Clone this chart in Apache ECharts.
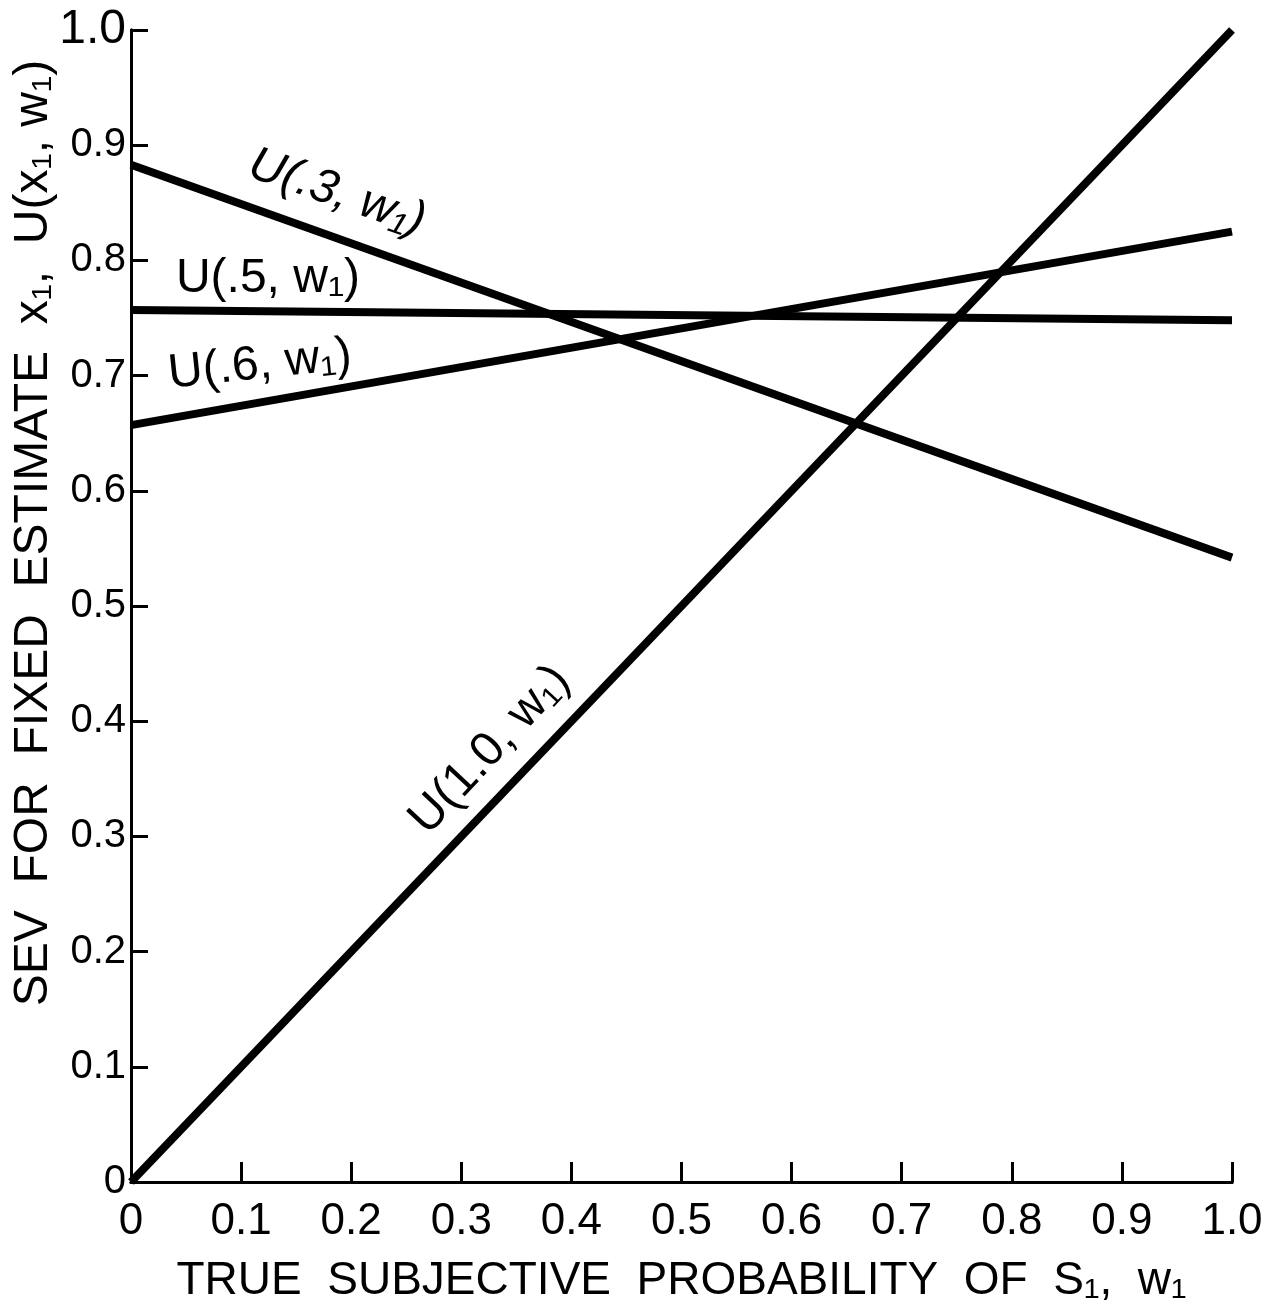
<!DOCTYPE html>
<html>
<head>
<meta charset="utf-8">
<script src="https://cdn.jsdelivr.net/npm/echarts@6/dist/echarts.min.js"></script>
<style>html,body{margin:0;padding:0;background:#fff;overflow:hidden}#c{width:1285px;height:1309px}</style>
</head>
<body>
<div id="c"></div>
<script>
// ---- data ----
var wValues = [0, 1];                 // true subjective probability w1
var u03 = [0.883, 0.542];             // U(.3, w1)
var u05 = [0.757, 0.748];             // U(.5, w1)
var u06 = [0.657, 0.825];             // U(.6, w1)
var u10 = [0.0, 1.0];                 // U(1.0, w1)
var seriesNames = ['U(.3, w₁)', 'U(.5, w₁)', 'U(.6, w₁)', 'U(1.0, w₁)'];
var xTitle = 'TRUE  SUBJECTIVE  PROBABILITY  OF  S₁,  w₁';
var yTitle = 'SEV  FOR  FIXED  ESTIMATE  x₁,  U(x₁, w₁)';

var FONT = '"Liberation Sans", "DejaVu Sans", sans-serif';

function pairs(ys) { return wValues.map(function (w, i) { return [w, ys[i]]; }); }
function fmt(v) { return v === 0 ? '0' : v.toFixed(1); }

var chart = echarts.init(document.getElementById('c'), null, { width: 1285, height: 1309 });

function lineSeries(name, ys) {
  return {
    name: name, type: 'line', data: pairs(ys), showSymbol: false, symbol: 'none',
    lineStyle: { color: '#000', width: 8, cap: 'butt' }, silent: true, z: 5
  };
}

var axisLineStyle = { show: true, lineStyle: { color: '#000', width: 3 } };

chart.setOption({
  animation: false,
  backgroundColor: '#fff',
  grid: { left: 131, right: 53, top: 30, bottom: 127, containLabel: false, outerBoundsMode: 'none' },
  xAxis: [{
    type: 'value', min: 0, max: 1, interval: 0.1, position: 'bottom',
    axisLine: axisLineStyle,
    axisTick: { show: true, inside: true, length: 20, lineStyle: { color: '#000', width: 3 } },
    splitLine: { show: false },
    axisLabel: { formatter: fmt, fontSize: 44, color: '#000', fontFamily: FONT, margin: 18 },
    name: xTitle, nameLocation: 'middle', nameGap: 76,
    nameTextStyle: { fontSize: 46, color: '#000', fontFamily: FONT }
  }, {
    type: 'value', min: 0, max: 1, position: 'top',
    axisLine: axisLineStyle, axisTick: { show: false }, axisLabel: { show: false }, splitLine: { show: false }
  }],
  yAxis: [{
    type: 'value', min: 0, max: 1, interval: 0.1, position: 'left',
    axisLine: axisLineStyle,
    axisTick: { show: true, inside: true, length: 17, lineStyle: { color: '#000', width: 3 } },
    splitLine: { show: false },
    axisLabel: {
      formatter: function (v) { return v === 1 ? '{b|1.0}' : fmt(v); },
      fontSize: 40, color: '#000', fontFamily: FONT, margin: 5,
      rich: { b: { fontSize: 48, color: '#000', fontFamily: FONT } }
    }
  }, {
    type: 'value', min: 0, max: 1, position: 'right',
    axisLine: axisLineStyle, axisTick: { show: false }, axisLabel: { show: false }, splitLine: { show: false }
  }],
  series: [
    lineSeries(seriesNames[0], u03),
    lineSeries(seriesNames[1], u05),
    lineSeries(seriesNames[2], u06),
    lineSeries(seriesNames[3], u10)
  ],
  graphic: [
    { type: 'text', x: 34, y: 533, rotation: Math.PI / 2,
      style: { text: yTitle, fontSize: 48, fontFamily: FONT, fill: '#000', align: 'center', verticalAlign: 'middle' } },
    { type: 'text', x: 337, y: 193, rotation: -19 * Math.PI / 180,
      style: { text: seriesNames[0], fontSize: 48, fontFamily: FONT, fill: '#000', align: 'center', verticalAlign: 'middle', fontStyle: 'italic' } },
    { type: 'text', x: 268, y: 279, rotation: 0,
      style: { text: seriesNames[1], fontSize: 48, fontFamily: FONT, fill: '#000', align: 'center', verticalAlign: 'middle' } },
    { type: 'text', x: 260, y: 365, rotation: 6 * Math.PI / 180,
      style: { text: seriesNames[2], fontSize: 48, fontFamily: FONT, fill: '#000', align: 'center', verticalAlign: 'middle' } },
    { type: 'text', x: 490, y: 750, rotation: 47 * Math.PI / 180,
      style: { text: seriesNames[3], fontSize: 48, fontFamily: FONT, fill: '#000', align: 'center', verticalAlign: 'middle' } }
  ]
});
</script>
</body>
</html>
